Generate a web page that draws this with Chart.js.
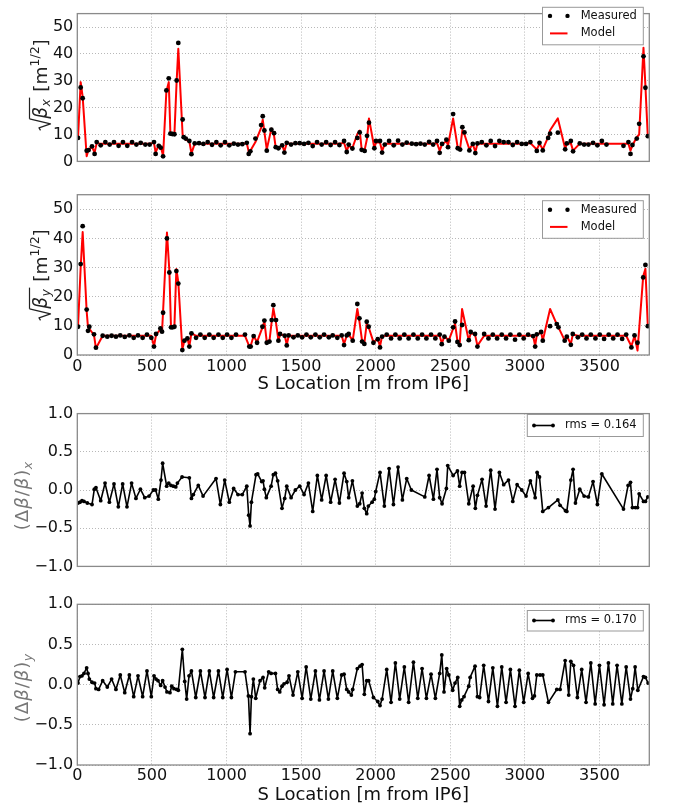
<!DOCTYPE html>
<html><head><meta charset="utf-8">
<script src="https://cdn.jsdelivr.net/npm/chart.js@4.4.1/dist/chart.umd.min.js"></script>
<style>
html,body{margin:0;padding:0;background:#fff;width:673px;height:806px;overflow:hidden;}
canvas{position:absolute;left:0;}
</style></head><body>
<canvas id="c1" width="673" height="175" style="top:0px"></canvas>
<canvas id="c2" width="673" height="215" style="top:180px"></canvas>
<canvas id="c3" width="673" height="180" style="top:400px"></canvas>
<canvas id="c4" width="673" height="216" style="top:590px"></canvas>
<script>
// ---------------- DATA ----------------
const sMax = 3834;
const xTickVals = [0,500,1000,1500,2000,2500,3000,3500];
const betaTickVals = [0,10,20,30,40,50];
const dbTickVals = [-1,-0.5,0,0.5,1];
const xAxisTitle = 'S Location [m from IP6]';
const legendBeta = ['Measured','Model'];
const rmsX = 'rms = 0.164';
const rmsY = 'rms = 0.170';

const sBetaX = [4.7,22.6,36,62.8,76,98.6,116,130,157,188,
217,246,277,306,335,367,396,425,456,485,
514,525,546,559,575,597,613,624,637,651,
666,677,706,713,727,751,765,787,816,845,
874,903,932,961,990,1019,1049,1077,1106,1136,
1149,1160,1194,1232,1243,1254,1270,1301,1319,1330,
1348,1373,1388,1404,1433,1462,1491,1520,1549,1578,
1607,1638,1668,1698,1728,1757,1788,1806,1819,1844,
1877,1893,1906,1926,1942,1955,1991,2002,2029,2043,
2061,2090,2121,2150,2179,2208,2242,2271,2300,2329,
2358,2385,2411,2429,2445,2474,2485,2519,2550,2566,
2581,2595,2628,2651,2668,2682,2711,2742,2771,2800,
2829,2858,2890,2919,2948,2979,3008,3037,3080,3098,
3120,3156,3169,3221,3270,3281,3308,3323,3368,3397,
3426,3457,3486,3516,3547,3661,3694,3708,3721,3750,
3766,3795,3808,3824];
const betaXMeas = [8.75,27.5,23.5,4.0,4.2,5.6,2.8,7.2,6.0,7.2,
6.25,7.2,5.8,7.2,5.8,7.2,6.25,6.9,6.25,6.25,
7.2,2.8,5.8,5.1,1.9,26.4,30.9,10.3,10.2,10.1,
30.1,44.1,15.6,9.0,8.5,7.6,2.7,6.7,6.8,6.5,
7.2,6.2,7.2,6.0,7.2,6.0,6.6,6.25,6.4,6.9,
2.8,3.75,8.5,13.5,16.8,11.5,4.0,11.8,10.5,5.3,
4.9,6.0,3.3,6.9,6.25,6.8,6.8,6.5,6.9,5.7,
7.2,6.25,7.2,6.1,7.2,6.1,7.6,3.5,6.25,4.8,
8.75,10.8,4.3,3.9,9.5,14.4,4.9,7.6,7.6,3.3,
6.25,7.6,6.0,7.7,6.25,7.0,6.6,6.4,6.6,6.25,
7.3,6.25,7.6,3.2,6.5,8.1,5.3,17.6,4.9,4.4,
12.7,10.8,4.1,6.5,3.1,6.7,7.2,6.0,7.6,5.7,
7.6,7.2,7.2,6.1,7.2,6.5,6.5,7.2,3.9,6.9,
4.1,8.75,10.3,10.7,4.5,6.7,7.6,3.75,6.7,6.25,
6.25,6.9,6.0,7.6,6.25,5.8,7.2,2.8,6.1,8.5,
14.0,39.1,27.4,9.4];
const betaXModel = [8.5,29.5,24,1.9,4.6,5.3,3.3,6.8,6.6,6.6,
6.6,6.6,6.6,6.6,6.6,6.6,6.6,6.6,6.6,6.6,
6.9,3.3,6.2,5.5,2.1,26.0,29.5,10.4,10.4,10.2,
30.0,41.9,9.8,9.5,8.0,7.5,3.0,6.6,6.6,6.6,
6.6,6.6,6.6,6.6,6.6,6.6,6.6,6.6,6.6,6.8,
3.6,4.0,7.2,12.5,15.5,11.0,4.5,12.2,9.5,5.2,
5.0,6.0,3.8,6.8,6.6,6.6,6.6,6.6,6.6,6.6,
6.6,6.6,6.6,6.6,6.6,6.6,6.9,3.9,5.8,5.0,
10.2,11.5,4.5,4.3,8.5,16.0,5.0,7.0,7.0,3.8,
6.6,6.6,6.6,6.6,6.6,6.6,6.6,6.6,6.6,6.6,
6.6,6.6,6.8,4.0,6.4,7.5,6.0,16.0,5.0,4.8,
11.6,10.0,4.5,6.5,3.5,6.6,6.6,6.6,6.6,6.6,
6.6,6.6,6.6,6.6,6.6,6.6,6.6,6.8,4.4,6.6,
4.5,9.0,11.6,16.0,4.8,6.4,6.8,4.0,6.6,6.6,
6.6,6.6,6.6,6.6,6.6,6.6,6.6,4.0,6.0,9.0,
10.0,42.3,28.0,9.2];

const sBetaY = [4.7,22.6,36,62.8,71.7,80.7,112,125,170,201,
230,259,288,318,349,378,407,438,467,496,
514,528,557,568,575,601,617,628,639,651,
664,677,704,718,738,751,765,796,825,854,
885,914,946,975,1004,1033,1064,1124,1153,1162,
1182,1205,1241,1254,1270,1288,1303,1314,1332,1348,
1359,1390,1404,1417,1449,1478,1507,1536,1565,1596,
1625,1654,1686,1712,1743,1772,1788,1806,1819,1846,
1877,1891,1909,1924,1940,1953,1985,2014,2029,2043,
2074,2103,2132,2161,2192,2221,2253,2282,2311,2340,
2371,2400,2429,2443,2461,2490,2519,2532,2548,2563,
2579,2624,2637,2666,2682,2727,2756,2785,2814,2845,
2874,2903,2934,2963,2992,3022,3055,3069,3080,3109,
3120,3169,3214,3225,3267,3281,3308,3321,3355,3384,
3413,3442,3473,3502,3531,3562,3592,3621,3652,3679,
3714,3735,3755,3793,3808,3824];
const betaYMeas = [9.7,31.2,44.2,15.6,8.3,9.7,7.1,2.5,6.6,6.3,
6.6,6.3,6.7,6.2,6.7,5.9,6.7,5.9,7.0,5.9,
2.9,7.2,9.1,8.0,14.5,40.0,28.3,9.5,9.5,9.7,
28.8,24.5,1.7,4.9,5.7,2.9,7.4,5.9,7.0,5.9,
7.0,5.9,7.0,5.9,7.0,5.9,7.0,7.0,2.9,2.9,
6.5,4.2,9.7,11.8,4.2,4.6,12.0,17.1,12.0,4.9,
7.2,6.6,3.3,6.7,6.05,6.7,6.05,7.0,6.05,7.0,
6.05,7.0,6.05,6.7,5.9,6.7,3.4,6.7,7.2,4.9,
17.5,12.6,4.6,3.8,11.4,9.7,4.2,5.4,2.6,6.3,
7.0,5.7,7.0,5.7,7.0,5.7,7.0,5.7,7.0,5.7,
7.0,5.7,7.0,3.7,6.3,4.9,9.5,11.5,4.5,3.4,
10.3,5.1,7.9,7.2,2.9,7.2,5.7,7.0,5.7,7.0,
5.7,7.0,5.25,7.0,5.7,7.0,6.5,2.9,7.1,7.9,
4.9,9.9,10.6,9.5,4.9,6.3,3.5,7.2,6.05,7.0,
5.7,7.0,5.7,7.0,5.5,7.0,5.7,7.0,5.5,7.0,
2.6,6.7,4.2,26.6,30.9,9.9];
const betaYModel = [9.7,30.0,42.2,15.0,9.5,9.0,6.8,2.3,6.6,6.6,
6.6,6.6,6.6,6.6,6.6,6.6,6.6,6.6,6.6,6.6,
3.0,7.0,8.8,8.0,15.0,42.0,29.0,9.5,9.7,10.0,
29.5,25.0,1.9,5.0,5.8,3.0,7.5,6.6,6.6,6.6,
6.6,6.6,6.6,6.6,6.6,6.6,6.6,6.6,3.0,3.2,
6.5,4.5,9.5,11.5,4.5,4.8,11.5,16.0,11.0,5.0,
7.0,6.8,3.5,6.6,6.6,6.6,6.6,6.6,6.6,6.6,
6.6,6.6,6.6,6.6,6.6,6.6,3.8,6.6,7.0,5.0,
15.8,11.5,4.8,4.2,10.8,9.5,4.4,5.5,3.0,6.5,
6.6,6.6,6.6,6.6,6.6,6.6,6.6,6.6,6.6,6.6,
6.6,6.6,6.6,4.0,6.4,5.0,9.0,10.8,4.8,3.8,
15.8,5.0,7.5,7.0,3.2,6.6,6.6,6.6,6.6,6.6,
6.6,6.6,6.6,6.6,6.6,6.6,6.6,3.2,6.8,7.8,
5.0,15.8,10.5,9.5,5.0,6.5,3.8,7.0,6.6,6.6,
6.6,6.6,6.6,6.6,6.6,6.6,6.6,6.6,6.6,6.6,
3.0,6.6,1.5,27.0,29.6,9.9];

const sDbx = [4.7,18,31.5,45,67,98.6,114,125,157,186,
215,246,275,304,333,364,393,423,452,481,
510,525,543,561,572,599,613,628,644,660,
671,702,751,765,778,811,843,930,959,988,
1019,1048,1077,1106,1136,1149,1158,1167,1198,1209,
1236,1245,1254,1267,1299,1314,1328,1343,1372,1390,
1404,1433,1462,1491,1520,1549,1578,1609,1638,1668,
1698,1728,1757,1788,1806,1819,1844,1877,1893,1909,
1924,1940,1951,1976,1991,2000,2029,2058,2090,2119,
2150,2179,2208,2239,2329,2358,2387,2411,2429,2445,
2474,2483,2519,2548,2563,2579,2595,2624,2653,2668,
2682,2713,2740,2771,2800,2829,2858,2890,2919,2948,
2979,3008,3037,3069,3082,3098,3120,3158,3221,3236,
3272,3281,3308,3323,3339,3368,3397,3426,3457,3486,
3516,3661,3692,3708,3721,3741,3755,3766,3795,3808,
3824];
const dbx = [-0.17,-0.16,-0.14,-0.15,-0.17,-0.19,0.01,0.03,-0.14,0.09,
-0.16,0.08,-0.22,0.08,-0.22,0.09,-0.11,0.01,-0.10,-0.08,
0.0,0.0,-0.12,0.13,0.35,0.05,0.09,0.06,0.05,0.04,
0.09,0.17,0.16,-0.11,-0.06,0.06,-0.08,0.15,-0.19,0.13,
-0.16,0.02,-0.06,-0.06,0.05,-0.33,-0.47,-0.16,0.20,0.21,
0.11,0.12,0.01,-0.10,0.05,0.20,0.22,0.12,-0.24,-0.11,
0.05,-0.10,0.0,0.05,-0.06,0.09,-0.28,0.19,-0.13,0.19,
-0.16,0.14,-0.17,0.22,0.11,-0.10,0.12,-0.21,-0.18,-0.04,
-0.24,-0.31,-0.21,-0.16,-0.12,-0.02,0.23,-0.21,0.28,-0.19,
0.30,-0.13,0.15,0.0,-0.09,0.19,-0.12,0.27,-0.10,-0.18,
0.02,0.32,0.19,0.25,0.05,0.23,0.23,-0.18,0.05,-0.24,
-0.07,0.14,-0.21,0.26,-0.25,0.23,0.07,0.13,-0.15,0.07,
0.0,-0.08,0.12,-0.10,0.23,0.17,-0.28,-0.23,-0.13,-0.20,
-0.27,-0.28,0.13,0.27,-0.17,0.01,-0.08,-0.09,0.11,-0.19,
0.21,-0.25,0.06,0.10,-0.23,-0.23,-0.23,-0.05,-0.15,-0.15,
-0.09];

const sDby = [4.7,18,31.5,45,62.8,71.7,80.7,98.6,116,125,
143,170,201,230,259,288,318,349,378,407,
438,467,496,514,528,541,559,572,588,601,
621,633,648,666,677,704,720,733,749,765,
794,825,856,885,914,946,975,1004,1033,1060,
1124,1147,1158,1167,1180,1196,1225,1245,1256,1283,
1299,1328,1343,1357,1372,1386,1406,1419,1446,1478,
1507,1534,1565,1596,1623,1654,1683,1712,1743,1772,
1788,1806,1819,1837,1846,1877,1895,1909,1924,1940,
1953,1985,2014,2029,2043,2074,2103,2132,2161,2192,
2221,2253,2282,2311,2340,2371,2400,2429,2443,2458,
2476,2490,2516,2532,2550,2563,2577,2592,2624,2633,
2666,2682,2697,2724,2756,2785,2816,2845,2874,2903,
2934,2963,2992,3022,3051,3064,3080,3102,3120,3158,
3214,3236,3270,3294,3308,3326,3352,3381,3410,3442,
3471,3500,3531,3560,3589,3618,3650,3679,3708,3723,
3739,3757,3795,3808,3826];
const dby = [0.02,0.10,0.11,0.14,0.21,0.14,0.07,0.03,0.02,-0.05,
-0.06,0.05,-0.03,0.07,-0.06,0.12,-0.10,0.12,-0.15,0.11,
-0.15,0.17,-0.15,0.11,0.07,0.05,-0.01,0.05,-0.03,-0.09,
-0.10,-0.02,-0.05,-0.06,-0.07,0.44,0.04,-0.18,0.11,0.17,
-0.16,0.17,-0.16,0.17,-0.16,0.17,-0.16,0.19,-0.16,0.16,
0.16,-0.14,-0.61,-0.15,0.07,-0.17,0.05,0.09,-0.04,0.16,
0.14,0.14,-0.06,-0.09,-0.02,0.01,0.03,0.11,-0.13,0.16,
-0.17,0.22,-0.18,0.17,-0.19,0.17,-0.18,0.17,-0.17,0.12,
0.13,-0.06,-0.09,-0.13,-0.06,0.20,0.23,0.25,-0.12,0.05,
0.05,-0.16,-0.21,-0.26,-0.18,0.19,-0.22,0.27,-0.18,0.22,
-0.22,0.28,-0.17,0.20,-0.17,0.13,-0.17,0.14,0.37,-0.09,
0.20,0.12,-0.07,0.02,0.09,-0.27,-0.19,-0.15,-0.02,0.09,
0.23,-0.15,-0.16,0.24,-0.21,0.21,-0.27,0.22,-0.22,0.19,
-0.27,0.18,-0.22,0.14,-0.17,-0.14,0.12,0.12,0.12,-0.22,
-0.06,-0.06,0.30,-0.13,0.29,0.24,-0.16,0.19,-0.22,0.27,
-0.24,0.24,-0.25,0.27,-0.24,0.24,-0.24,0.22,-0.18,-0.05,
0.22,-0.07,0.10,0.09,0.02];

// ---------------- RENDERING ----------------
const FONT = "'DejaVu Sans', sans-serif";
const pts = (xs, ys) => xs.map((x, i) => ({x: x, y: ys[i]}));

const framePlugin = {
  id: 'frame',
  afterDraw(chart) {
    const a = chart.chartArea, c = chart.ctx;
    c.save(); c.setLineDash([]); c.strokeStyle = '#8a8a8a'; c.lineWidth = 1.3;
    c.strokeRect(a.left, a.top, a.right - a.left, a.bottom - a.top);
    c.restore();
  }
};

const legendPlugin = {
  id: 'mplLegend',
  afterDraw(chart, args, o) {
    if (!o || !o.items) return;
    const c = chart.ctx, t = o.top;
    c.save(); c.setLineDash([]);
    const [x0, y0, x1, y1] = o.box;
    c.fillStyle = '#fff'; c.fillRect(x0, y0 - t, x1 - x0, y1 - y0);
    c.strokeStyle = '#999'; c.lineWidth = 1; c.strokeRect(x0, y0 - t, x1 - x0, y1 - y0);
    o.items.forEach(it => {
      const y = it.y - t;
      if (it.kind === 'dots') {
        c.fillStyle = it.color;
        [o.sx0, o.sx1].forEach(x => { c.beginPath(); c.arc(x, y, 2.2, 0, Math.PI * 2); c.fill(); });
      } else {
        c.strokeStyle = it.color; c.lineWidth = it.kind === 'line' ? 2 : 1.6;
        c.beginPath(); c.moveTo(o.sx0, y); c.lineTo(o.sx1, y); c.stroke();
        if (it.kind === 'linedots') {
          c.fillStyle = it.color;
          [o.sx0, o.sx1].forEach(x => { c.beginPath(); c.arc(x, y, 1.9, 0, Math.PI * 2); c.fill(); });
        }
      }
      c.fillStyle = '#111'; c.font = '11.5px ' + FONT; c.textBaseline = 'middle'; c.textAlign = 'left';
      c.fillText(it.text, o.tx, y);
    });
    c.restore();
  }
};

const yLabelPlugin = {
  id: 'yLabel',
  afterDraw(chart, args, cfg) {
    if (!cfg || !cfg.parts) return;
    const ctx = chart.ctx, parts = cfg.parts;
    ctx.save(); ctx.setLineDash([]);
    ctx.translate(cfg.cx, cfg.cy);
    ctx.rotate(-Math.PI / 2);
    ctx.fillStyle = cfg.color; ctx.strokeStyle = cfg.color;
    ctx.textBaseline = 'alphabetic'; ctx.textAlign = 'left';
    const ws = parts.map(p => {
      if (p.radical) return p.w;
      ctx.font = p.font; return ctx.measureText(p.t).width + (p.gap || 0);
    });
    const total = ws.reduce((a, b) => a + b, 0);
    let x = -total / 2; const b = cfg.base;
    let ovS = null, ovE = null;
    parts.forEach((p, i) => {
      if (p.radical) {
        ctx.lineWidth = 1.2; ctx.lineJoin = 'round'; ctx.beginPath();
        ctx.moveTo(x + 0.5, b - 6); ctx.lineTo(x + 3, b - 7.5); ctx.lineTo(x + 7, b + 4);
        ctx.lineTo(x + p.w, b + cfg.radTop); ctx.stroke();
        ovS = x + p.w;
      } else {
        ctx.font = p.font; ctx.fillText(p.t, x, b + (p.dy || 0));
        if (p.over) ovE = x + ws[i];
      }
      x += ws[i];
    });
    if (ovS !== null && ovE !== null) {
      ctx.lineWidth = 1.2; ctx.beginPath();
      ctx.moveTo(ovS, b + cfg.radTop); ctx.lineTo(ovE, b + cfg.radTop); ctx.stroke();
    }
    ctx.restore();
  }
};

function makeChart(id, o) {
  const ctx = document.getElementById(id);
  return new Chart(ctx, {
    type: 'scatter',
    data: { datasets: o.datasets },
    plugins: [framePlugin, legendPlugin, yLabelPlugin],
    options: {
      responsive: false, animation: false, devicePixelRatio: 1,
      events: [],
      layout: { padding: { left: 0, right: 673 - 649.3, top: o.padTop, bottom: 0 } },
      plugins: { legend: { display: false }, tooltip: { enabled: false }, mplLegend: o.legend, yLabel: o.ylabel },
      scales: {
        x: {
          type: 'linear', min: 0, max: sMax,
          afterBuildTicks: s => { s.ticks = xTickVals.map(v => ({ value: v })); },
          afterFit: s => { s.height = o.xh; },
          grid: { color: '#b8b8b8', lineWidth: 1, drawTicks: false },
          border: { display: false, dash: [1, 2] },
          ticks: { display: o.xlabels, font: { family: FONT, size: 16 }, color: '#111', padding: o.xpad || 2,
                   maxRotation: 0, autoSkip: false, callback: v => String(v) },
          title: { display: o.xlabels, text: xAxisTitle, font: { family: FONT, size: 18 }, color: '#111',
                   padding: { top: 0, bottom: 0 } }
        },
        y: {
          type: 'linear', min: o.ymin, max: o.ymax,
          afterBuildTicks: s => { s.ticks = o.yticks.map(v => ({ value: v })); },
          afterFit: s => { s.width = 77.3; },
          grid: { color: '#b8b8b8', lineWidth: 1, drawTicks: false },
          border: { display: false, dash: [1, 2] },
          ticks: { font: { family: FONT, size: 16 }, color: '#111', padding: 4, callback: o.yfmt }
        }
      }
    }
  });
}

const betaFmt = v => String(v);
const dbFmt = v => v.toFixed(1).replace('-', '\u2212');

function betaSets(s, meas, model) {
  return [
    { label: legendBeta[0], data: pts(s, meas), showLine: false, pointRadius: 2.4, pointBackgroundColor: '#000',
      pointBorderWidth: 0, order: 0 },
    { label: legendBeta[1], data: pts(s, model), showLine: true, borderColor: '#ff0000', borderWidth: 2,
      borderJoinStyle: 'round', borderCapStyle: 'round', pointRadius: 0, tension: 0, order: 1 }
  ];
}
function dbSet(s, v, lab) {
  return [{ label: lab, data: pts(s, v), showLine: true, borderColor: '#000', borderWidth: 1.6, pointRadius: 1.9,
            borderJoinStyle: 'round', borderCapStyle: 'round',
            pointBackgroundColor: '#000', pointBorderWidth: 0, tension: 0 }];
}

const F = n => n + 'px ' + FONT;
const FI = n => 'italic ' + n + 'px ' + FONT;
function betaLabel(sub) {
  return [
    { radical: true, w: 12 },
    { t: '\u03B2', font: FI(18.5), over: true, gap: 0.5 },
    { t: sub, font: FI(12.5), dy: 3.5, over: true, gap: 1.5 },
    { t: ' [m', font: F(18.5) },
    { t: '1/2', font: F(12.5), dy: -8 },
    { t: ']', font: F(18.5) }
  ];
}
function dbLabel(sub) {
  return [
    { t: '(', font: F(18), gap: 1 },
    { t: '\u0394', font: F(18), gap: 1 },
    { t: '\u03B2', font: FI(18), gap: 1 },
    { t: '/', font: F(18), gap: 1 },
    { t: '\u03B2', font: FI(18), gap: 1 },
    { t: ')', font: F(18), gap: 0.5 },
    { t: sub, font: FI(12.5), dy: 3.5 }
  ];
}

makeChart('c1', {
  padTop: 1, xh: 13, xlabels: false, ymin: 0, ymax: 55, yticks: betaTickVals, yfmt: betaFmt,
  datasets: betaSets(sBetaX, betaXMeas, betaXModel),
  legend: { top: 0, box: [542.5, 7.3, 643.3, 44.8], sx0: 550, sx1: 567.5, tx: 580.7,
            items: [{ kind: 'dots', color: '#000', text: legendBeta[0], y: 15.9 },
                    { kind: 'line', color: '#ff0000', text: legendBeta[1], y: 33.4 }] },
  ylabel: { cx: 40, cy: 85, base: 6.5, radTop: -17, color: '#222', parts: betaLabel('x') }
});
makeChart('c2', {
  padTop: 14.7, xh: 40, xlabels: true, xpad: 2, ymin: 0, ymax: 55, yticks: betaTickVals, yfmt: betaFmt,
  datasets: betaSets(sBetaY, betaYMeas, betaYModel),
  legend: { top: 180, box: [542.5, 200.7, 643.3, 238.3], sx0: 550, sx1: 567.5, tx: 580.7,
            items: [{ kind: 'dots', color: '#000', text: legendBeta[0], y: 209.7 },
                    { kind: 'line', color: '#ff0000', text: legendBeta[1], y: 226.9 }] },
  ylabel: { cx: 40, cy: 275 - 180, base: 6.5, radTop: -17, color: '#222', parts: betaLabel('y') }
});
makeChart('c3', {
  padTop: 10, xh: 8.3, xlabels: false, ymin: -1, ymax: 1, yticks: dbTickVals, yfmt: dbFmt,
  datasets: dbSet(sDbx, dbx, rmsX),
  legend: { top: 400, box: [527.3, 414.5, 643.3, 436.5], sx0: 534, sx1: 553, tx: 565,
            items: [{ kind: 'linedots', color: '#000', text: rmsX, y: 425.5 }] },
  ylabel: { cx: 23, cy: 496 - 400, base: 5, color: '#777', parts: dbLabel('x') }
});
makeChart('c4', {
  padTop: 14.3, xh: 41, xlabels: true, xpad: 1.5, ymin: -1, ymax: 1, yticks: dbTickVals, yfmt: dbFmt,
  datasets: dbSet(sDby, dby, rmsY),
  legend: { top: 590, box: [527.3, 610.5, 643.3, 631], sx0: 534, sx1: 553, tx: 565,
            items: [{ kind: 'linedots', color: '#000', text: rmsY, y: 620.5 }] },
  ylabel: { cx: 23, cy: 688 - 590, base: 5, color: '#777', parts: dbLabel('y') }
});
</script>
</body></html>
